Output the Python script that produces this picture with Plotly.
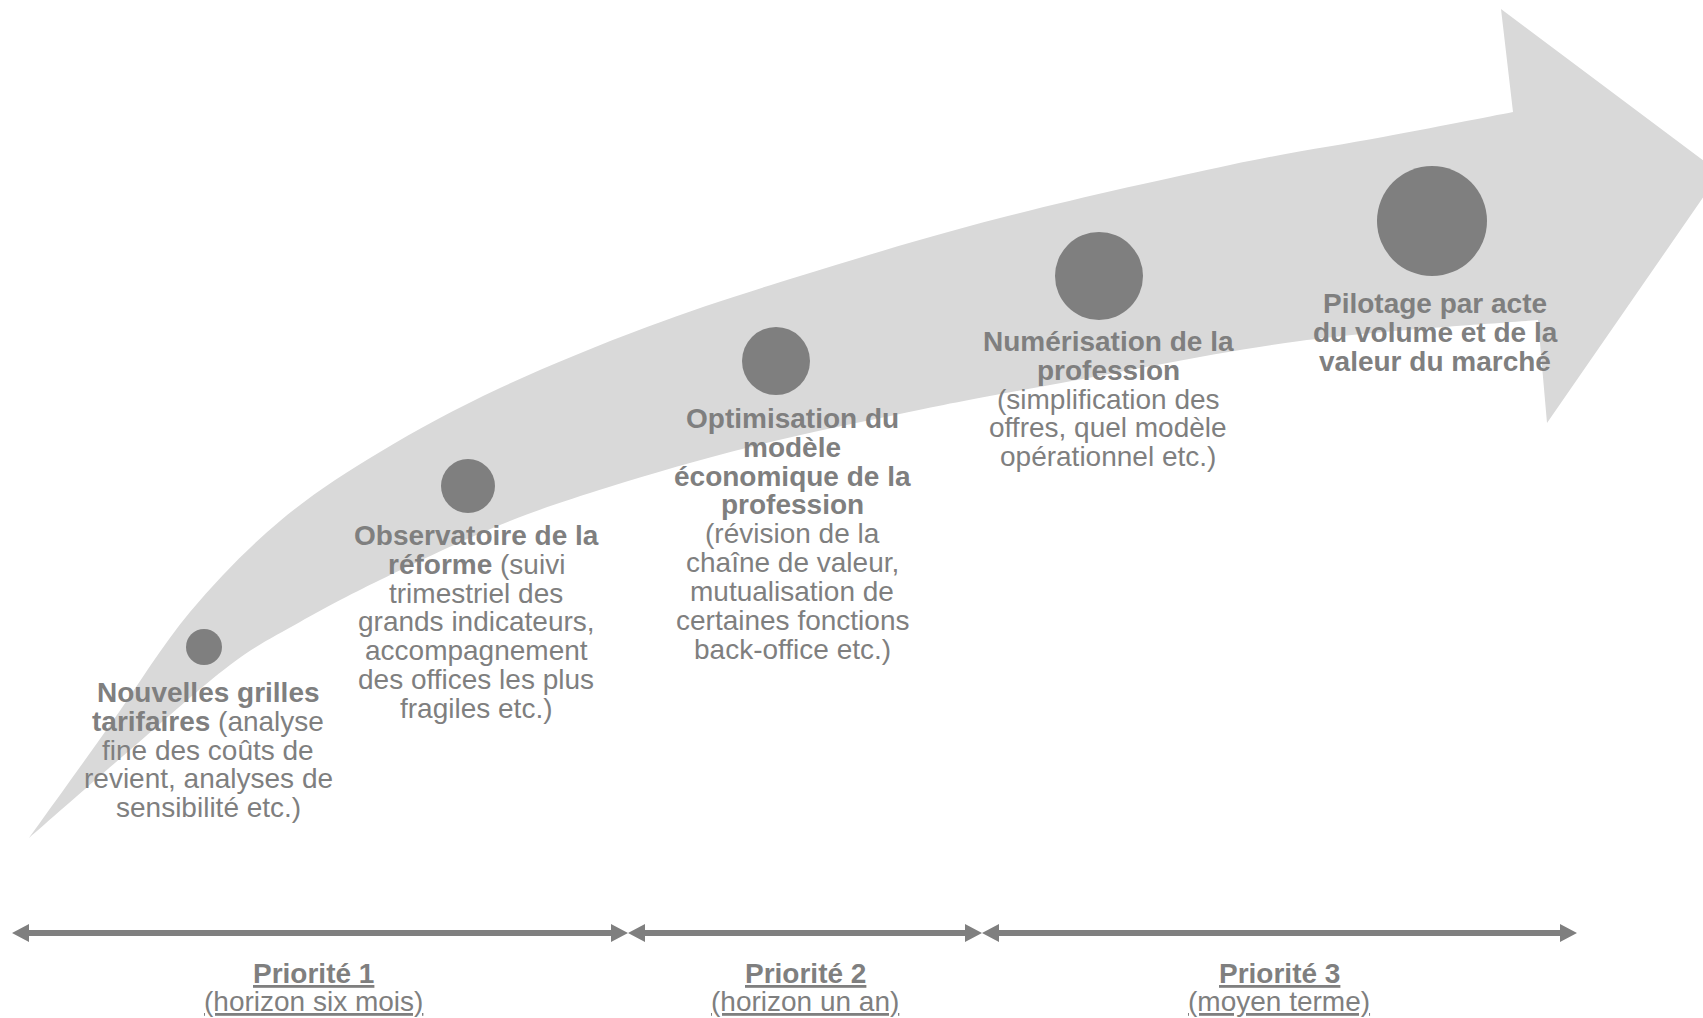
import plotly.graph_objects as go

# ---------------- data ----------------
steps = ["Nouvelles grilles tarifaires", "Observatoire de la réforme",
         "Optimisation du modèle économique de la profession",
         "Numérisation de la profession",
         "Pilotage par acte du volume et de la valeur du marché"]

step1_lines = ["<b>Nouvelles grilles</b>", "<b>tarifaires</b> (analyse",
               "fine des coûts de", "revient, analyses de", "sensibilité etc.)"]
step2_lines = ["<b>Observatoire de la</b>", "<b>réforme</b> (suivi", "trimestriel des",
               "grands indicateurs,", "accompagnement", "des offices les plus",
               "fragiles etc.)"]
step3_lines = ["<b>Optimisation du</b>", "<b>modèle</b>", "<b>économique de la</b>",
               "<b>profession</b>", "(révision de la", "chaîne de valeur,",
               "mutualisation de", "certaines fonctions", "back-office etc.)"]
step4_lines = ["<b>Numérisation de la</b>", "<b>profession</b>", "(simplification des",
               "offres, quel modèle", "opérationnel etc.)"]
step5_lines = ["<b>Pilotage par acte</b>", "<b>du volume et de la</b>",
               "<b>valeur du marché</b>"]
step_lines = [step1_lines, step2_lines, step3_lines, step4_lines, step5_lines]

priorities = ["Priorité 1", "Priorité 2", "Priorité 3"]
horizons = ["(horizon six mois)", "(horizon un an)", "(moyen terme)"]

# ---------------- layout geometry (pixels) ----------------
W, H = 1703, 1018
GREY = "#7f7f7f"
BAND = "#d9d9d9"
FONT = "Liberation Sans, Arial, sans-serif"
FS = 28
STEP = 28.9

dot_x = [204, 468, 776, 1099, 1432]
dot_y = [647, 486, 361, 276, 221]
dot_d = [36, 54, 68, 88, 110]

text_cx = [208, 476, 792, 1108, 1435]
text_base = [702, 545, 428, 351, 313]

seg_bounds = [(12, 628), (628, 982), (982, 1577)]
label_cx = [313, 805, 1279]
arrow_y = 933

upper = [(29, 838), (110, 725), (190, 612), (280, 521), (380, 452), (500, 388),
         (647, 327), (800, 276), (1000, 218), (1230, 165), (1383, 137), (1513, 112)]
head = [(1501, 9), (1720, 173), (1547, 423), (1538, 320)]
lower = [(1538, 320), (1300, 341), (1050, 385), (909, 412), (750, 447), (609, 487),
         (500, 525), (380, 580), (300, 622), (230, 665), (130, 750), (29, 838)]


def smooth(pts):
    d = ""
    n = len(pts)
    for i in range(n - 1):
        p0 = pts[i - 1] if i > 0 else pts[i]
        p1 = pts[i]
        p2 = pts[i + 1]
        p3 = pts[i + 2] if i + 2 < n else pts[i + 1]
        c1 = (p1[0] + (p2[0] - p0[0]) / 6, p1[1] + (p2[1] - p0[1]) / 6)
        c2 = (p2[0] - (p3[0] - p1[0]) / 6, p2[1] - (p3[1] - p1[1]) / 6)
        d += f" C {c1[0]:.1f},{c1[1]:.1f} {c2[0]:.1f},{c2[1]:.1f} {p2[0]},{p2[1]}"
    return d


path = f"M {upper[0][0]},{upper[0][1]}" + smooth(upper)
for p in head:
    path += f" L {p[0]},{p[1]}"
path += smooth(lower) + " Z"

shapes = [dict(type="path", path=path, xref="x", yref="y", fillcolor=BAND,
               line=dict(width=0), layer="below")]

# double-headed arrows at the bottom
HL, HW, SW = 17, 9, 3
for (a, b) in seg_bounds:
    y = arrow_y
    p = (f"M {a},{y} L {a+HL},{y-HW} L {a+HL},{y-SW} L {b-HL},{y-SW} L {b-HL},{y-HW} "
         f"L {b},{y} L {b-HL},{y+HW} L {b-HL},{y+SW} L {a+HL},{y+SW} L {a+HL},{y+HW} Z")
    shapes.append(dict(type="path", path=p, xref="x", yref="y", fillcolor=GREY,
                       line=dict(width=0), layer="below"))

fig = go.Figure()
fig.add_trace(go.Scatter(x=dot_x, y=dot_y, mode="markers", text=steps,
                         hoverinfo="text",
                         marker=dict(size=dot_d, color=GREY, opacity=1,
                                     line=dict(width=0)),
                         showlegend=False))

annotations = []
off = 0.35 * FS
for lines, cx, b0 in zip(step_lines, text_cx, text_base):
    for k, ln in enumerate(lines):
        annotations.append(dict(x=cx, y=b0 + k * STEP - off, xref="x", yref="y",
                                text=ln, showarrow=False, xanchor="center",
                                yanchor="middle",
                                font=dict(family=FONT, size=FS, color=GREY)))

for pr, hz, cx in zip(priorities, horizons, label_cx):
    annotations.append(dict(x=cx, y=983 - off, xref="x", yref="y",
                            text=f"<b><u>{pr}</u></b>", showarrow=False,
                            xanchor="center", yanchor="middle",
                            font=dict(family=FONT, size=FS, color=GREY)))
    annotations.append(dict(x=cx, y=1011 - off, xref="x", yref="y",
                            text=f"<u>{hz}</u>", showarrow=False,
                            xanchor="center", yanchor="middle",
                            font=dict(family=FONT, size=FS, color=GREY)))

fig.update_layout(width=W, height=H, margin=dict(l=0, r=0, t=0, b=0),
                  paper_bgcolor="white", plot_bgcolor="white",
                  xaxis=dict(range=[0, W], visible=False, fixedrange=True),
                  yaxis=dict(range=[H, 0], visible=False, fixedrange=True),
                  shapes=shapes, annotations=annotations)

fig.write_html("out.html", config={"displayModeBar": False},
               post_script="document.body.style.margin='0';"
                           "document.body.style.overflow='hidden';"
                           "document.documentElement.style.overflow='hidden';")
